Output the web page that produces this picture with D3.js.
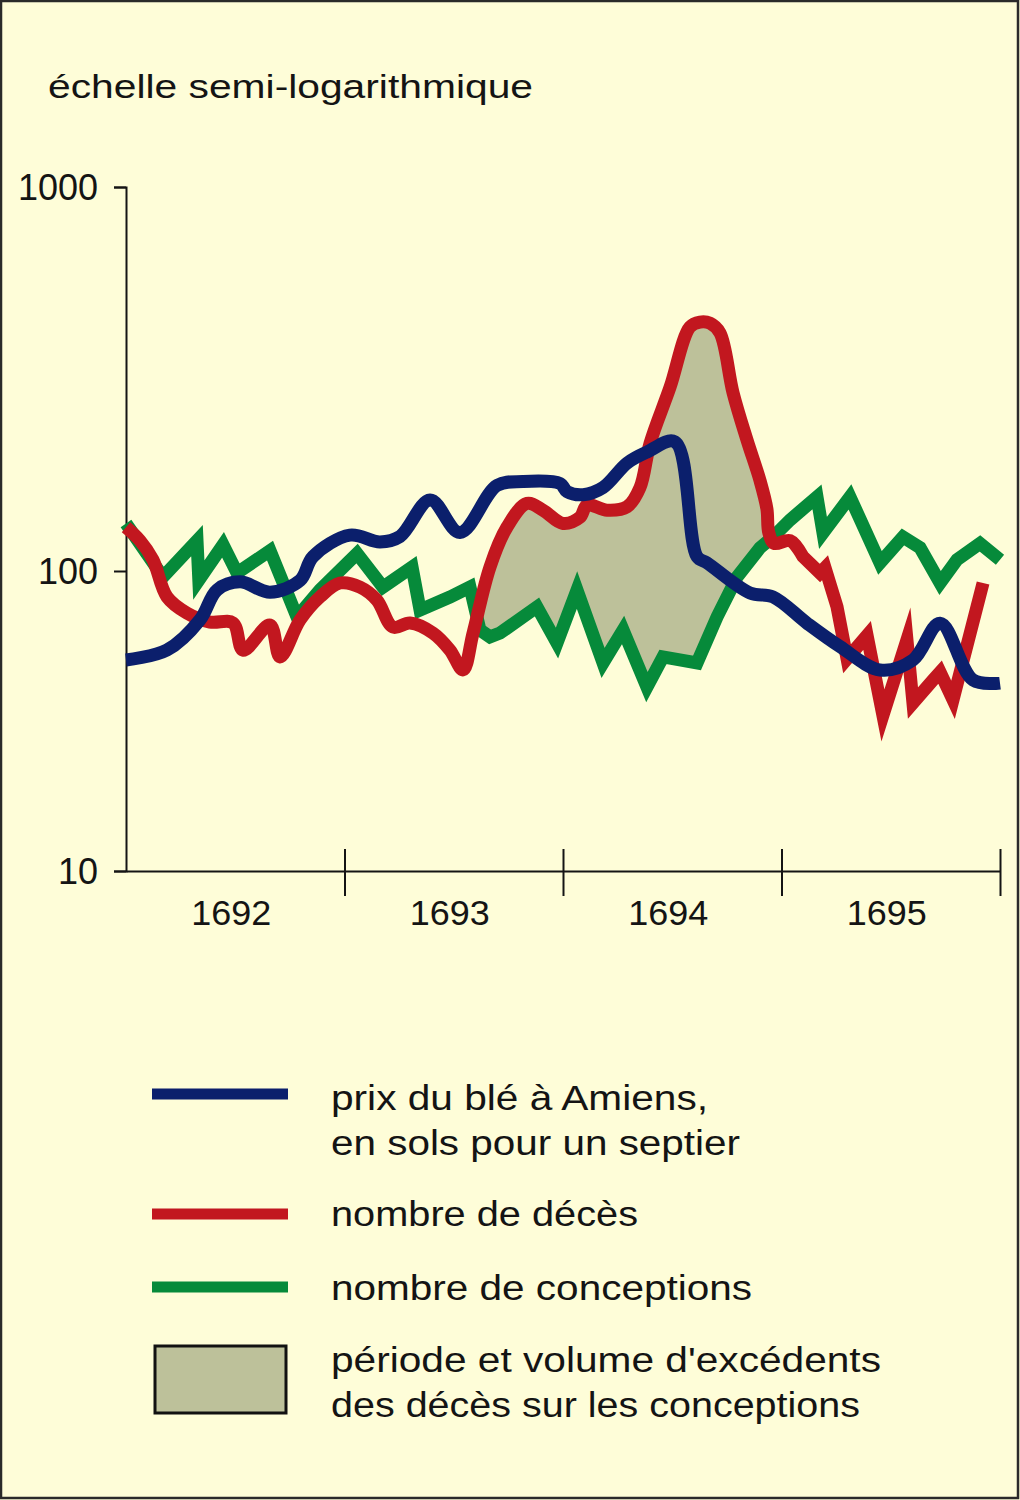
<!DOCTYPE html>
<html><head><meta charset="utf-8">
<script src="https://cdn.jsdelivr.net/npm/d3@7"></script>
<style>html,body{margin:0;padding:0;background:#FEFDD8;}svg{display:block;}</style>
</head><body>
<svg id="c" width="1020" height="1500"></svg>
<script>
// ---- data (months since Jan 1692, values) ----
const years = ["1692", "1693", "1694", "1695"];
const yTickValues = [10, 100, 1000];
const title = "échelle semi-logarithmique";

const priceMonths = [0, 2.25, 4.06, 5.0, 6.26, 7.91, 9.56, 10.27, 12.3, 13.95, 15.05, 16.7, 18.34, 20.38, 21.8, 23.84, 24.22, 25.1, 26.2, 27.52, 28.61, 30.15, 31.36, 31.91, 34.27, 35.53, 37.4, 39.21, 41.41, 43.22, 44.71, 46.52, 48];
const priceValues = [50.5, 54.5, 68.7, 86.5, 92, 85, 93, 109, 124, 119, 123, 153, 126, 167, 171, 169, 161, 158, 165, 191, 204, 217, 109, 105, 84.5, 82, 67, 56, 46.8, 50.5, 67, 43.3, 42.3];

const deathMonths = [0, 0.77, 1.48, 2.25, 3.35, 4.61, 5.88, 6.43, 7.91, 8.46, 9.56, 10.65, 11.75, 12.85, 13.78, 14.66, 15.6, 16.86, 17.79, 18.51, 19.06, 19.99, 20.92, 22.02, 22.9, 24.0, 24.93, 25.32, 26.42, 27.52, 28.23, 28.78, 29.88, 30.97, 31.52, 32.07, 32.62, 33.34, 34.11, 34.82, 35.2, 35.3, 35.6, 36.47, 37.18, 38.11, 38.39, 39.05, 39.6, 40.7, 41.57, 42.89, 43.22, 44.32, 44.71, 45.42, 47.07];
const deathValues = [130, 120, 107, 82, 72.4, 67.6, 67.1, 54.5, 66, 51.7, 68.7, 81.9, 91.2, 88.4, 80, 65, 67.1, 62.1, 54.5, 46.8, 62.1, 102.4, 130, 150, 144, 133, 138, 148.5, 144, 147, 165, 215, 301, 432, 445, 442, 417, 291, 219, 172, 145, 126, 118, 120, 109, 98.5, 102, 75.9, 51, 61, 33, 59, 36.3, 43.3, 46, 37.2, 91.2];
const deathSharpFrom = 37.18; // from this month on the death curve is drawn as sharp zigzags

const conceptionMonths = [0, 2.03, 3.9, 4.0, 5.33, 6.1, 7.91, 9.39, 10.65, 12.69, 14.11, 15.71, 16.15, 17.79, 18.89, 19.44, 19.99, 20.54, 22.57, 23.67, 24.77, 26.2, 27.3, 28.61, 29.49, 31.36, 32.46, 33.56, 34.82, 35.53, 36.47, 37.95, 38.28, 39.76, 41.41, 42.67, 43.61, 44.71, 45.64, 46.9, 48];
const conceptionValues = [133, 95.5, 120, 93.3, 117, 98.5, 113, 70.3, 86.4, 111, 88.4, 102.4, 74.1, 81.9, 88.4, 63.6, 60.3, 62.1, 75.9, 57.5, 86.4, 49.4, 63.6, 41, 51.7, 49.4, 70.3, 95.5, 115, 122.6, 135.8, 156, 125.6, 156, 105, 122.6, 115, 91.2, 107, 118, 107];

const excessRange = [18.5, 36]; // months where the shaded excess is shown

const legendLines = [
  ["prix du blé à Amiens,", "en sols pour un septier"],
  ["nombre de décès"],
  ["nombre de conceptions"],
  ["période et volume d'excédents", "des décès sur les conceptions"]
];

// ---- styles ----
const C = {bg:"#FEFDD8", blue:"#0B1F6C", red:"#C2171F", green:"#068A3A", fill:"#BDC19A", ink:"#141414"};
const FONT = "'Liberation Sans', Arial, sans-serif";

const svg = d3.select("#c");
svg.append("rect").attr("x",1).attr("y",1).attr("width",1017).attr("height",1497)
  .attr("fill",C.bg).attr("stroke","#2a2a2a").attr("stroke-width",2.5);

const x = d3.scaleLinear().domain([0,48]).range([126,1000]);
const y = d3.scaleLog().domain([10,100,1000]).range([871,571,187]);

const zip = (ts, vs) => ts.map((t,i)=>({t, v:vs[i]}));
const price = zip(priceMonths, priceValues);
const deaths = zip(deathMonths, deathValues);
const concs = zip(conceptionMonths, conceptionValues);

const smooth = d3.curveCatmullRom.alpha(0.5);
const lineGen = (curve) => d3.line().x(d=>x(d.t)).y(d=>y(d.v)).curve(curve);

const deathsSmooth = deaths.filter(d=>d.t<=deathSharpFrom);
const deathsSharp = deaths.filter(d=>d.t>deathSharpFrom);
const deathPath = lineGen(smooth)(deathsSmooth) + lineGen(d3.curveLinear)(deathsSharp).replace(/^M/,"L");

// title
svg.append("text").attr("x",48).attr("y",98).text(title)
  .attr("font-family",FONT).attr("font-size",34).attr("fill",C.ink)
  .attr("textLength",485).attr("lengthAdjust","spacingAndGlyphs");

// shaded excess: below red and above green
const defs = svg.append("defs");
defs.append("clipPath").attr("id","aboveGreen").append("path")
  .attr("d", d3.area().x(d=>x(d.t)).y0(0).y1(d=>y(d.v)).curve(d3.curveLinear)(concs));
defs.append("clipPath").attr("id","excessRange").append("rect")
  .attr("x", x(excessRange[0])).attr("y",0)
  .attr("width", x(excessRange[1]) - x(excessRange[0])).attr("height",1500);
svg.append("g").attr("clip-path","url(#excessRange)")
  .append("g").attr("clip-path","url(#aboveGreen)")
  .append("path")
  .attr("d", d3.area().x(d=>x(d.t)).y0(871).y1(d=>y(d.v)).curve(smooth)(deathsSmooth))
  .attr("fill", C.fill);

// axes
const yAxis = svg.append("g").attr("transform","translate(126,0)")
  .call(d3.axisLeft(y).tickValues(yTickValues).tickSize(12).tickPadding(16).tickFormat(d3.format("d")));
yAxis.select(".domain").attr("stroke",C.ink).attr("stroke-width",2);
yAxis.selectAll(".tick line").attr("stroke",C.ink).attr("stroke-width",2);
yAxis.selectAll(".tick text").attr("font-family",FONT).attr("font-size",36).attr("fill",C.ink).attr("dy","0.36em");

const xAxis = svg.append("g").attr("transform","translate(0,871)")
  .call(d3.axisBottom(x).tickValues([12,24,36,48]).tickSizeOuter(0).tickFormat(""));
xAxis.select(".domain").attr("stroke",C.ink).attr("stroke-width",2);
xAxis.selectAll(".tick line").attr("y1",-22).attr("y2",25).attr("stroke",C.ink).attr("stroke-width",2);

svg.append("g").selectAll("text").data(years).join("text")
  .attr("x",(d,i)=>x(i*12+6)-4).attr("y",925).attr("text-anchor","middle")
  .attr("font-family",FONT).attr("font-size",35).attr("fill",C.ink)
  .attr("textLength",80).attr("lengthAdjust","spacingAndGlyphs")
  .text(d=>d);

// lines
svg.append("path").attr("d", lineGen(d3.curveLinear)(concs))
  .attr("fill","none").attr("stroke",C.green).attr("stroke-width",13).attr("stroke-linejoin","miter").attr("stroke-miterlimit",10);
svg.append("path").attr("d", deathPath)
  .attr("fill","none").attr("stroke",C.red).attr("stroke-width",13).attr("stroke-linejoin","miter").attr("stroke-miterlimit",8);
svg.append("path").attr("d", lineGen(smooth)(price))
  .attr("fill","none").attr("stroke",C.blue).attr("stroke-width",13).attr("stroke-linejoin","miter").attr("stroke-miterlimit",4);

// legend
const legendY = [1094, 1214, 1287, 1380];
const legendColors = [C.blue, C.red, C.green];
const lg = svg.append("g");
legendColors.forEach((col,i)=>{
  lg.append("line").attr("x1",152).attr("x2",288).attr("y1",legendY[i]).attr("y2",legendY[i])
    .attr("stroke",col).attr("stroke-width",11);
});
lg.append("rect").attr("x",155).attr("y",1346).attr("width",131).attr("height",67)
  .attr("fill",C.fill).attr("stroke","#111").attr("stroke-width",3);
const textBase = [[1110,1155],[1226],[1300],[1372,1417]];
const textW = [[377,409],[307],[421],[550,529]];
legendLines.forEach((lines,i)=>{
  lines.forEach((s,j)=>{
    lg.append("text").attr("x",331).attr("y",textBase[i][j]).text(s)
      .attr("font-family",FONT).attr("font-size",35).attr("fill",C.ink)
      .attr("textLength",textW[i][j]).attr("lengthAdjust","spacingAndGlyphs");
  });
});
</script>
</body></html>
